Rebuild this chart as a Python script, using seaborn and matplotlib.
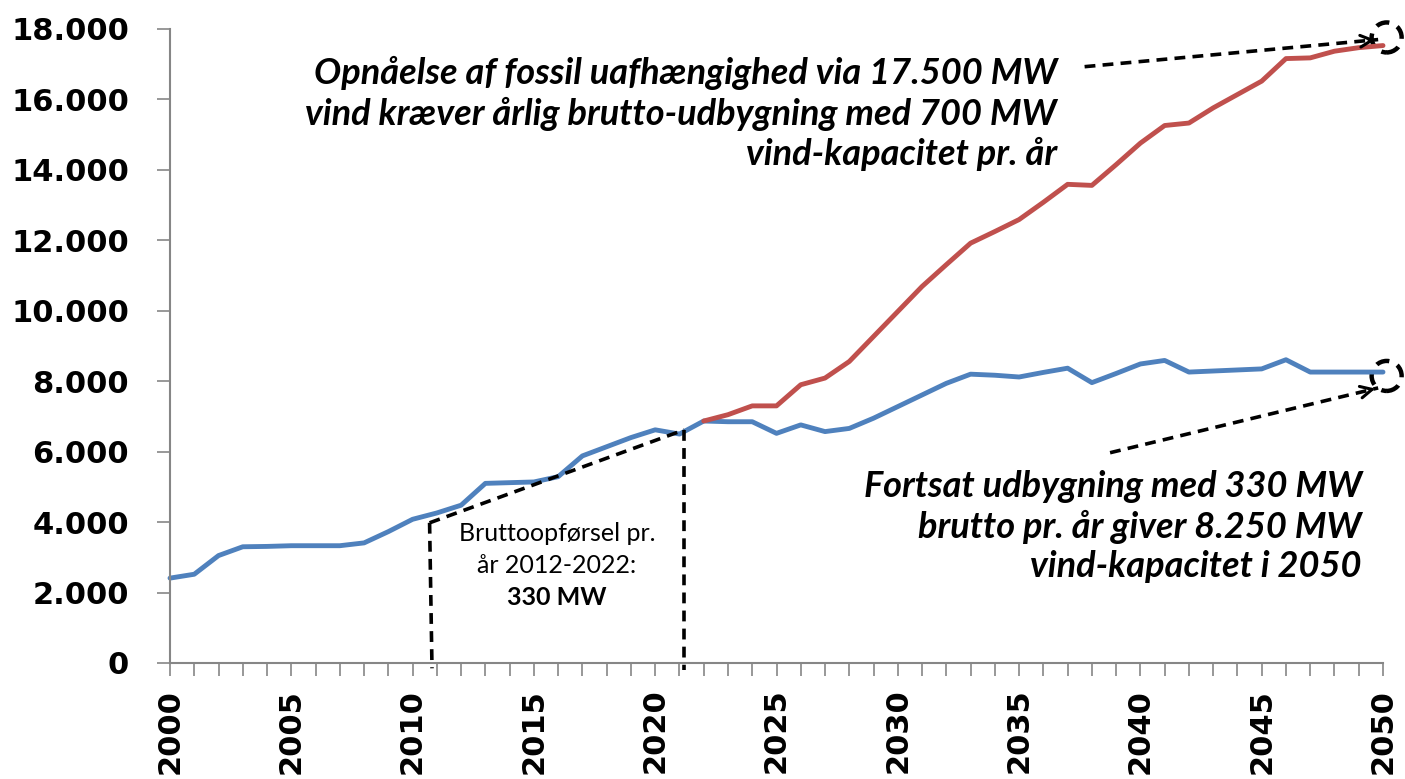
import numpy as np
import pandas as pd
import matplotlib
matplotlib.use("Agg")
import matplotlib.pyplot as plt
from matplotlib.patches import Ellipse
import seaborn as sns

# ---------------- data ----------------
years_blue = list(range(2000, 2051))
blue_values = [2410, 2520, 3050, 3300, 3310, 3330, 3330, 3330, 3410, 3730,
               4080, 4260, 4480, 5100, 5120, 5140, 5290, 5880, 6140, 6400,
               6620, 6500, 6870,
               6850, 6850, 6520, 6760, 6570, 6660, 6950, 7280, 7610, 7940,
               8200, 8170, 8120, 8250, 8370, 7960, 8220, 8490, 8590, 8260,
               8290, 8320, 8350, 8610, 8260, 8260, 8260, 8260]
years_red = list(range(2022, 2051))
red_values = [6870, 7050, 7300, 7300, 7900, 8090, 8560, 9270, 9980, 10690,
              11310, 11920, 12250, 12590, 13080, 13590, 13560, 14150, 14760,
              15260, 15330, 15760, 16140, 16520, 17160, 17180, 17370, 17470,
              17530]
series_names = ["Fortsat 330 MW", "Fossil uafhængighed 700 MW"]
y_ticks = list(range(0, 18001, 2000))
x_major = list(range(2000, 2051, 5))

text_red = ("Opnåelse af fossil uafhængighed via 17.500 MW\n"
            "vind kræver årlig brutto-udbygning med 700 MW\n"
            "vind-kapacitet pr. år")
text_blue = ("Fortsat udbygning med 330 MW\n"
             "brutto pr. år giver 8.250 MW\n"
             "vind-kapacitet i 2050")
text_hist = ["Bruttoopførsel pr.", "år 2012-2022:", "330 MW"]

df = pd.concat([
    pd.DataFrame({"year": years_blue, "MW": blue_values, "serie": series_names[0]}),
    pd.DataFrame({"year": years_red, "MW": red_values, "serie": series_names[1]}),
])

# ---------------- style ----------------
sns.set_theme(style="white")
plt.rcParams["font.family"] = ["DejaVu Sans"]
plt.rcParams["text.color"] = "black"
plt.rcParams["xtick.labelcolor"] = "black"
plt.rcParams["ytick.labelcolor"] = "black"

fig = plt.figure(figsize=(14.05, 7.79), dpi=100)
ax = fig.add_axes([170 / 1405, 1 - 663 / 779, (1383 - 170) / 1405, (663 - 29) / 779])

sns.lineplot(data=df, x="year", y="MW", hue="serie",
             palette={series_names[0]: "#4F81BD", series_names[1]: "#C0504D"},
             linewidth=3.5, legend=False, ax=ax, clip_on=False)

ax.set_xlim(2000, 2050)
ax.set_ylim(0, 18000)
ax.set_xlabel("")
ax.set_ylabel("")

grey = "#868686"
for s in ["top", "right"]:
    ax.spines[s].set_visible(False)
for s in ["left", "bottom"]:
    ax.spines[s].set_color(grey)
    ax.spines[s].set_linewidth(1.5)

ax.set_yticks(y_ticks)
ax.set_yticklabels([f"{v:,}".replace(",", ".") for v in y_ticks],
                   fontsize=22, fontweight="bold", color="black")
ax.set_xticks(x_major)
ax.set_xticklabels([str(v) for v in x_major], rotation=90,
                   fontsize=22, fontweight="bold", color="black")
ax.set_xticks(range(2000, 2051), minor=True)
ax.tick_params(axis="y", which="major", direction="out", length=9.4, width=1.2,
               color=grey, pad=20, left=True)
ax.tick_params(axis="x", which="both", direction="out", length=9.5, width=1.2,
               color=grey, pad=9, bottom=True)

# ---------------- annotations ----------------
dash = (0, (3, 2))
# historical slope annotation
ax.plot([2010.7, 2021.2], [3980, 6620], color="black", lw=2.6, linestyle=dash, clip_on=False)
ax.plot([2010.7, 2010.8], [3980, -150], color="black", lw=2.6, linestyle=dash, clip_on=False)
ax.plot([2021.2, 2021.2], [6620, -200], color="black", lw=2.6, linestyle=dash, clip_on=False)

for txt, yv, wt in zip(text_hist, [3690, 2780, 1850], ["normal", "normal", "bold"]):
    ax.text(2015.95, yv, txt, ha="center", va="center", fontsize=18,
            fontweight=wt, family=["Lato", "DejaVu Sans"], color="black")

# main text labels
ax.text(2036.56, 15600, text_red, ha="right", va="center", fontsize=26,
        fontweight="bold", fontstyle="italic", family=["Lato", "DejaVu Sans"],
        linespacing=1.24, color="black")
ax.text(2049.13, 3870, text_blue, ha="right", va="center", fontsize=26,
        fontweight="bold", fontstyle="italic", family=["Lato", "DejaVu Sans"],
        linespacing=1.24, color="black")

# dashed arrows
for (x0, y0, x1, y1) in [(2037.7, 16930, 2049.8, 17700), (2038.75, 5970, 2049.8, 7810)]:
    ax.plot([x0, x1], [y0, y1], color="black", lw=2.6, linestyle=dash, clip_on=False)
    dx, dy = x1 - x0, y1 - y0
    ax.annotate("", xy=(x1, y1), xytext=(x1 - dx * 0.04, y1 - dy * 0.04),
                arrowprops=dict(arrowstyle="->,head_length=0.7,head_width=0.35",
                                color="black", lw=2.2), annotation_clip=False)

# dashed circles at 2050
for yc in [17760, 8150]:
    e = Ellipse((2050.15, yc), width=30 / 24.26, height=30 / 35.22 * 1000,
                fill=False, edgecolor="black", lw=3.2, linestyle=(0, (3, 2)),
                clip_on=False)
    ax.add_patch(e)

fig.savefig("out.png", dpi=100)
